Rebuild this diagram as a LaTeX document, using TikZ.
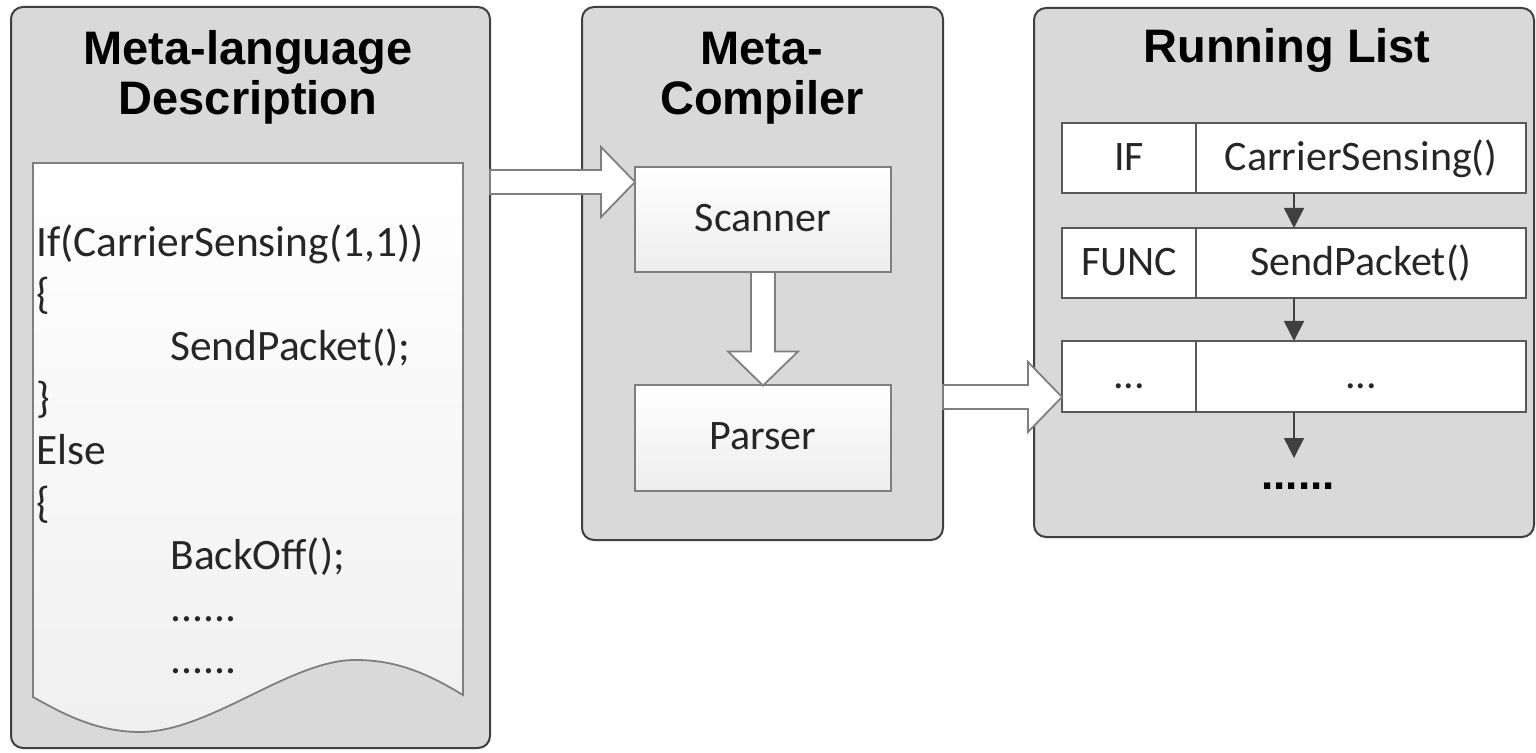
\documentclass[tikz,border=0pt]{standalone}
\usepackage{fontspec}
\setmainfont{Carlito}
\newfontfamily\headfont{Liberation Sans}
\usetikzlibrary{arrows.meta,calc}

\definecolor{panelfill}{HTML}{D9D9D9}
\definecolor{panelline}{HTML}{404040}
\definecolor{boxline}{HTML}{7F7F7F}
\definecolor{rowline}{HTML}{595959}
\definecolor{txt}{HTML}{262626}

\tikzset{
  panel/.style={draw=panelline, line width=1pt, fill=panelfill, rounded corners=6pt,
    inner sep=0pt, outer sep=0pt},
  stage/.style={draw=boxline, line width=1pt, top color=white, bottom color=black!7,
    inner sep=0pt, outer sep=0pt, minimum width=128pt, minimum height=52.5pt},
  row/.style={draw=rowline, line width=1pt, fill=white, inner sep=0pt, outer sep=0pt,
    minimum width=232pt, minimum height=35pt},
  headtext/.style={font=\headfont\bfseries\fontsize{23.5}{25}\selectfont, align=center,
    inner sep=0pt, anchor=base},
  code/.style={font=\fontsize{21.7}{26}\selectfont, text=txt, anchor=base west, inner sep=0pt},
  label/.style={font=\fontsize{21}{25}\selectfont, text=txt, anchor=base, inner sep=0pt},
  flow/.style={draw=boxline, line width=0.9pt, fill=white, line join=miter},
  link/.style={draw=panelline, line width=0.8pt, -{Triangle[width=10pt,length=10pt]}},
  sheet/.style={draw=boxline, line width=0.9pt, top color=white, bottom color=black!6},
}

% wide hollow arrow pointing right, from #1 to the tip #2
\newcommand\hblock[2]{%
  \path[flow] ($(#1)+(0,-12)$) -- ($(#2)+(-34,-12)$) -- ($(#2)+(-34,-35)$) -- (#2)
    -- ($(#2)+(-34,35)$) -- ($(#2)+(-34,12)$) -- ($(#1)+(0,12)$) -- cycle;}
% wide hollow arrow pointing down, from #1 to the tip #2
\newcommand\vblock[2]{%
  \path[flow] ($(#1)+(-12,0)$) -- ($(#2)+(-12,-34)$) -- ($(#2)+(-35,-34)$) -- (#2)
    -- ($(#2)+(35,-34)$) -- ($(#2)+(12,-34)$) -- ($(#1)+(12,0)$) -- cycle;}

\begin{document}
\begin{tikzpicture}[x=0.5pt, y=-0.5pt]
\useasboundingbox (0,0) rectangle (1536,753);

% ---------- panels ----------
\node[panel, minimum width=239.5pt, minimum height=370.5pt] (desc) at (250.5,377.5) {};
\node[panel, minimum width=180.5pt, minimum height=266.5pt] (comp) at (762.5,273.5) {};
\node[panel, minimum width=250pt, minimum height=264.5pt] (list) at (1284,272.5) {};

% two-line titles: the base anchor sits on the last line
\node[headtext] (descT) at (248,115) {Meta-language\\Description};
\node[headtext] (compT) at (762,115) {Meta-\\Compiler};
\node[headtext] (listT) at (1287,63) {Running List};

% ---------- source sheet ----------
\path[sheet] (33,163) -- (463,163) -- (463,695)
  .. controls (425,672) and (395,660) .. (355,660)
  .. controls (290,660) and (210,732) .. (140,732)
  .. controls (95,732) and (60,712) .. (33,697) -- cycle;

\node[code] (c1) at (36,257) {If(CarrierSensing(1,1))};
\node[code] (c2) at (36,309) {\{};
\node[code] (c3) at (170,361) {SendPacket();};
\node[code] (c4) at (36,413) {\}};
\node[code] (c5) at (36,465) {Else};
\node[code] (c6) at (36,517) {\{};
\node[code] (c7) at (170,569) {BackOff();};
\node[code] (c8) at (170,621) {......};
\node[code] (c9) at (170,673) {......};

% ---------- compiler stages ----------
\node[stage] (scan) at (763,219.5) {};
\node[label] at (763,232) {Scanner};
\node[stage] (pars) at (763,438) {};
\node[label] at (763,450) {Parser};

% ---------- running list ----------
\coordinate (dv) at (1196,0);
\node[row] (r1) at (1294,158) {};
\node[row] (r2) at (1294,263) {};
\node[row, minimum height=35.5pt] (r3) at (1294,376.5) {};
\foreach \r in {r1,r2,r3} \draw[rowline, line width=1pt] (\r.north -| dv) -- (\r.south -| dv);

\node[label] at (1129,170.5) {IF};
\node[label] at (1361,170.5) {CarrierSensing()};
\node[label] at (1129,275.5) {FUNC};
\node[label] at (1361,275.5) {SendPacket()};
\node[label] at (1129,389) {...};
\node[label] at (1361,389) {...};

\coordinate (tail) at ($(r3.south)+(0,46)$);
\draw[link] (r1.south) -- (r2.north);
\draw[link] (r2.south) -- (r3.north);
\draw[link] (r3.south) -- (tail);
\node[font=\headfont\bfseries\fontsize{22}{24}\selectfont, anchor=base, inner sep=0pt]
  (more) at (1298,489) {......};

% ---------- hollow flow arrows ----------
\coordinate (a1s) at (desc.east |- 0,182);
\coordinate (a1e) at (scan.west |- 0,182);
\hblock{a1s}{a1e}
\vblock{scan.south}{pars.north}
\coordinate (a2s) at (comp.east |- 0,397);
\coordinate (a2e) at (r3.west |- 0,397);
\hblock{a2s}{a2e}
\end{tikzpicture}
\end{document}
